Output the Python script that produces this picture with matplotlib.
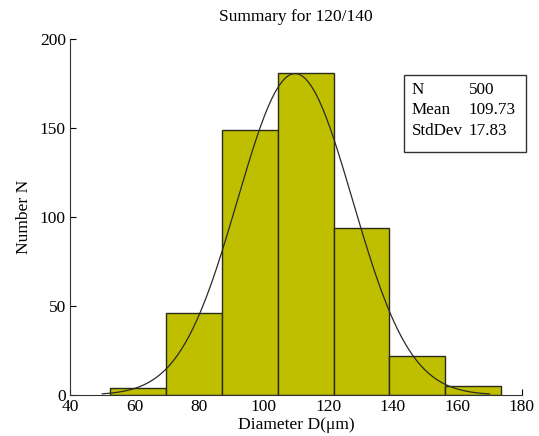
import numpy as np
import matplotlib
matplotlib.use("Agg")
import matplotlib.pyplot as plt
from matplotlib.patches import Rectangle

# histogram
bin_edges = [52.5, 69.8, 87.1, 104.4, 121.7, 139.0, 156.3, 173.6]
counts = [4, 46, 149, 181, 94, 22, 5]

n_total = 500
mean = 109.73
std = 17.83
curve_peak = 180.5
curve_range = (50.0, 170.0)

stat_labels = ["N", "Mean", "StdDev"]
stat_values = ["500", "109.73", "17.83"]

plt.rcParams["font.family"] = ["Liberation Serif", "DejaVu Serif"]
plt.rcParams["font.size"] = 11

fig = plt.figure(figsize=(5.39, 4.36), dpi=100)
ax = fig.add_axes([0.130, 0.094, 0.838, 0.817])
ax.set_axisbelow(True)

edges = np.array(bin_edges)
ax.bar(edges[:-1], counts, width=np.diff(edges), align="edge",
       color="#bfbf00", edgecolor="#2a2a1a", linewidth=1.0)

# fitted normal curve
xs = np.linspace(curve_range[0], curve_range[1], 300)
ys = curve_peak * np.exp(-0.5 * ((xs - mean) / std) ** 2)
ax.plot(xs, ys, color="#2a2a2a", linewidth=0.9)

ax.set_xlim(40, 180)
ax.set_ylim(0, 200)
ax.set_xticks(np.arange(40, 181, 20))
ax.set_yticks(np.arange(0, 201, 50))
ax.tick_params(direction="in", length=4, width=0.8, labelsize=12.5, pad=3)
for s in ["top", "right"]:
    ax.spines[s].set_visible(False)
for s in ["left", "bottom"]:
    ax.spines[s].set_color("#333333")

ax.set_xlabel("Diameter D(\u03bcm)", fontsize=12.6, labelpad=1)
ax.set_ylabel("Number N", fontsize=12.6, labelpad=6)
ax.set_title("Summary for 120/140", fontsize=12.5, pad=13)

# stats box
box = Rectangle((0.740, 0.683), 0.269, 0.216, transform=ax.transAxes,
                fill=False, edgecolor="#333333", linewidth=1.0, clip_on=False)
ax.add_patch(box)
row_y = [0.855, 0.799, 0.742]
for lab, val, y in zip(stat_labels, stat_values, row_y):
    ax.text(0.756, y, lab, transform=ax.transAxes, fontsize=12.3, va="center")
    ax.text(0.882, y, val, transform=ax.transAxes, fontsize=12.3, va="center")

fig.savefig("out.png", dpi=100)
